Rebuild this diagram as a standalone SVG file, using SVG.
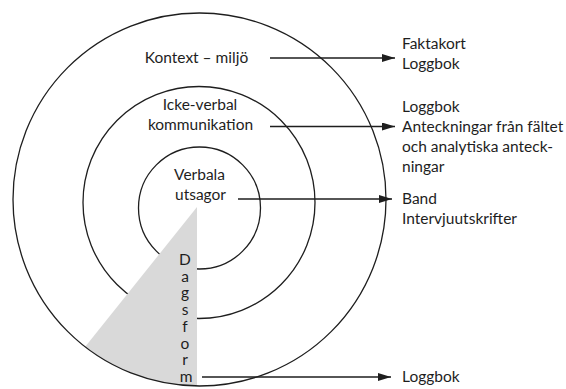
<svg xmlns="http://www.w3.org/2000/svg" width="566" height="389" viewBox="0 0 566 389">
  <style>
    .ring { fill: none; stroke: #1e1e1e; stroke-width: 1.3; }
    .lbl { font-family: Lato, "Open Sans", "Liberation Sans", sans-serif; font-size: 15.5px; fill: #1e1e1e; }
    .mid { text-anchor: middle; }
    .conn { stroke: #1e1e1e; stroke-width: 1.3; fill: none; marker-end: url(#arr); }
  </style>
  <defs>
    <marker id="arr" viewBox="0 0 13 8" refX="13" refY="4" markerWidth="13" markerHeight="8" markerUnits="userSpaceOnUse" orient="auto">
      <path d="M0 0 L13 4 L0 8 Z" fill="#1e1e1e"/>
    </marker>
  </defs>
  <rect width="566" height="389" fill="#ffffff"/>

  <g id="ring-verbala">
    <circle class="ring" cx="199.5" cy="208" r="61"/>
  </g>
  <g id="ring-ickeverbal">
    <circle class="ring" cx="199" cy="202.5" r="116"/>
  </g>

  <g id="dagsform">
    <path d="M197 207 L85 347 A186.5 186.5 0 0 0 197 386 Z" fill="#d9d9d9"/>
    <g class="lbl mid">
      <text x="185" y="265">D</text>
      <text x="185" y="281.7">a</text>
      <text x="185" y="298.4">g</text>
      <text x="185" y="315">s</text>
      <text x="185" y="331.8">f</text>
      <text x="185" y="348.5">o</text>
      <text x="185" y="365">r</text>
      <text x="186" y="382">m</text>
    </g>
  </g>

  <g id="ring-kontext">
    <circle class="ring" cx="199.5" cy="199.5" r="186.5"/>
  </g>

  <g id="labels" class="lbl mid">
    <text x="196.5" y="63">Kontext – miljö</text>
    <text x="200" y="110">Icke-verbal</text>
    <text x="200.5" y="130">kommunikation</text>
    <text x="199.5" y="180">Verbala</text>
    <text x="200.5" y="200">utsagor</text>
  </g>

  <g id="connectors">
    <line class="conn" x1="270" y1="58" x2="395" y2="58"/>
    <line class="conn" x1="270" y1="126.5" x2="395" y2="126.5"/>
    <line class="conn" x1="238" y1="199" x2="392" y2="199"/>
    <line class="conn" x1="202" y1="377" x2="391" y2="377"/>
  </g>

  <g id="sources" class="lbl">
    <text x="402" y="49">Faktakort</text>
    <text x="402" y="69">Loggbok</text>
    <text x="402" y="112">Loggbok</text>
    <text x="402" y="132">Anteckningar från fältet</text>
    <text x="402" y="152">och analytiska anteck-</text>
    <text x="402" y="172">ningar</text>
    <text x="402" y="204">Band</text>
    <text x="402" y="224">Intervjuutskrifter</text>
    <text x="402" y="382">Loggbok</text>
  </g>
</svg>
